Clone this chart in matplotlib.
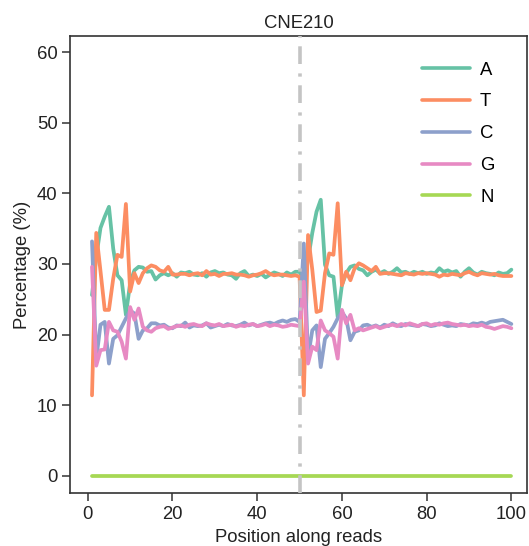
import matplotlib
matplotlib.use("Agg")
import matplotlib.pyplot as plt
import numpy as np

plt.rcParams['font.family'] = ['Liberation Sans', 'DejaVu Sans']

positions = list(range(1, 101))

A = [25.6, 31.0, 35.1, 36.7, 38.1, 32.2, 28.4, 27.7, 22.8, 27.3,
     29.1, 29.6, 29.5, 28.9, 29.0, 27.8, 28.4, 28.7, 28.4, 28.7,
     28.2, 28.8, 28.7, 28.9, 28.5, 28.4, 28.7, 28.2, 28.8, 29.0,
     28.7, 28.8, 28.5, 28.4, 27.9, 28.7, 29.0, 28.3, 28.5, 28.3,
     28.6, 28.1, 28.5, 28.8, 28.6, 28.3, 28.8, 28.5, 28.9, 28.9,
     27.5, 30.6, 34.4, 37.4, 39.1, 29.9, 28.4, 28.2, 22.5, 27.0,
     28.7, 29.6, 29.8, 29.3, 29.1, 28.4, 28.9, 29.2, 28.7, 29.0,
     28.6, 28.9, 29.4, 28.8, 28.9, 28.6, 28.9, 28.7, 28.9, 28.6,
     28.8, 28.7, 29.4, 28.9, 29.1, 28.8, 29.0, 28.2, 28.9, 29.4,
     28.8, 28.5, 28.9, 28.7, 28.6, 28.4, 28.8, 28.6, 28.7, 29.2]

T = [11.4, 34.4, 29.0, 23.5, 23.5, 27.9, 31.3, 31.0, 38.5, 26.1,
     28.7, 27.3, 28.7, 29.4, 29.8, 29.6, 29.1, 28.9, 29.6, 28.5,
     28.5, 28.6, 28.6, 28.4, 28.6, 28.7, 28.4, 29.0, 28.5, 28.6,
     28.3, 28.6, 28.6, 28.7, 28.5, 28.5, 28.4, 28.2, 28.4, 28.5,
     28.7, 29.0, 28.6, 28.4, 28.5, 28.5, 28.4, 28.3, 28.4, 28.2,
     11.4, 34.1, 29.2, 23.2, 23.4, 28.7, 31.5, 31.3, 38.6, 27.0,
     28.9, 27.7, 29.4, 30.1, 29.8, 29.4, 29.0, 29.6, 28.6, 28.7,
     28.7, 28.6, 28.5, 28.4, 28.7, 28.6, 28.5, 28.7, 28.6, 28.7,
     28.6, 28.5, 28.2, 28.5, 28.4, 28.6, 28.5, 28.4, 28.7, 28.9,
     28.6, 28.4, 28.7, 28.6, 28.5, 28.6, 28.4, 28.3, 28.3, 28.3]

C = [33.2, 16.5, 21.4, 21.8, 15.9, 19.4, 19.9, 21.1, 22.3, 23.4,
     23.0, 19.4, 20.6, 20.9, 21.6, 21.6, 21.3, 21.4, 21.0, 20.9,
     21.3, 21.2, 21.7, 21.0, 21.3, 21.2, 21.3, 21.6, 21.0, 21.2,
     21.4, 21.2, 21.5, 21.3, 21.2, 21.4, 21.7, 21.3, 21.5, 21.2,
     21.4, 21.6, 21.7, 21.5, 21.8, 22.0, 21.8, 22.1, 22.2, 21.8,
     32.9, 16.8, 20.6, 21.3, 15.4, 19.4, 20.2, 21.1, 22.3, 23.2,
     22.3, 19.2, 20.4, 20.6, 21.3, 21.4, 21.1, 21.3, 21.0, 21.4,
     21.2, 21.6, 21.3, 21.2, 21.5, 21.4, 21.3, 21.2, 21.5, 21.4,
     21.2, 21.3, 21.6, 21.4, 21.2, 21.3, 21.2, 21.5, 21.4, 21.3,
     21.6, 21.5, 21.7, 21.5, 21.8, 21.9, 22.0, 22.1, 21.8, 21.5]

G = [29.6, 15.6, 17.8, 17.9, 21.8, 20.6, 20.4, 19.0, 16.6, 23.9,
     22.1, 23.7, 21.1, 20.6, 20.4, 20.9, 21.1, 21.2, 20.8, 21.0,
     21.2, 21.3, 21.1, 21.4, 21.5, 21.3, 21.2, 21.6, 21.4, 21.3,
     21.5, 21.2, 21.3, 21.4, 21.1, 21.3, 21.2, 21.4, 21.5, 21.2,
     21.3, 21.5, 21.2, 21.4, 21.3, 21.1, 21.2, 21.4, 21.3, 21.2,
     27.5, 15.9, 18.3, 17.8, 22.0, 20.6, 20.2, 19.7, 16.6, 23.5,
     21.6, 22.8, 20.6, 20.9, 20.6, 20.8, 21.0, 21.2, 20.9, 21.1,
     21.3, 21.4, 21.2, 21.5, 21.3, 21.6, 21.4, 21.2, 21.5, 21.6,
     21.3, 21.5, 21.4, 21.6, 21.7, 21.5, 21.4, 21.3, 21.4, 21.2,
     21.3, 21.2, 21.4, 21.1, 21.0, 20.8, 21.0, 21.2, 21.1, 20.9]

N = [0.0] * 100

series_names = ['A', 'T', 'C', 'G', 'N']
series_values = [A, T, C, G, N]
colors = ['#66c2a5', '#fc8d62', '#8da0cb', '#e78ac3', '#a6d854']
read_split = 50
title = 'CNE210'

fig = plt.figure(figsize=(5.29, 5.46), dpi=100)
ax = fig.add_axes([0.1323, 0.0962, 0.864, 0.838])

for name, vals, col in zip(series_names, series_values, colors):
    ax.plot(positions, vals, color=col, lw=2.7, label=name, solid_capstyle='round',
            solid_joinstyle='round')

ax.axvline(read_split, color='#c4c4c4', lw=2.6, linestyle=(0, (4.9, 2.4, 0.9, 2.6)), zorder=3)

ax.set_xlim(-4.2, 103.7)
ax.set_ylim(-2.5, 62.3)
ax.set_xticks([0, 20, 40, 60, 80, 100])
ax.set_yticks([0, 10, 20, 30, 40, 50, 60])

for s in ax.spines.values():
    s.set_color('#333333')
    s.set_linewidth(1.2)
ax.tick_params(direction='out', length=6, width=1.1, color='#333333',
               labelsize=13.3, labelcolor='#222222', pad=3)

ax.set_xlabel('Position along reads', fontsize=13.3, color='#222222', labelpad=4)
ax.set_ylabel('Percentage (%)', fontsize=13.3, color='#222222', labelpad=4)
ax.set_title(title, fontsize=13.3, color='#222222', pad=6)

leg = ax.legend(loc='upper right', bbox_to_anchor=(0.965, 0.98), frameon=False,
                fontsize=13.3, handlelength=2.6, labelspacing=0.8, handletextpad=0.55)
for line in leg.get_lines():
    line.set_linewidth(2.6)

fig.savefig('out.png', dpi=100)
